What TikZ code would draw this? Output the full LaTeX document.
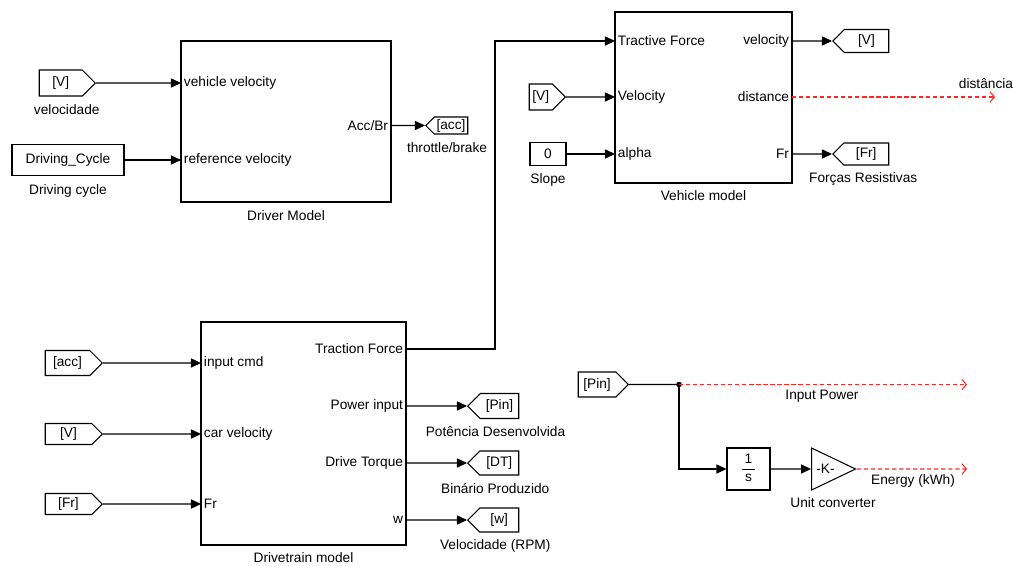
\documentclass[tikz,border=0pt]{standalone}
\usepackage{fontspec}
\setmainfont{Liberation Sans}
\usetikzlibrary{arrows.meta, positioning, shapes.geometric, shapes.symbols}

\begin{document}
\begin{tikzpicture}[
    x=0.02cm, y=-0.02cm,
    every node/.style={font=\fontsize{7.8}{9.4}\selectfont},
    block/.style={draw, line width=0.7pt, inner sep=0pt},
    fromtag/.style={draw, line width=0.6pt, signal, signal to=east, inner sep=1pt, anchor=east},
    gototag/.style={draw, line width=0.6pt, signal, signal to=west, inner sep=1pt, anchor=west},
    gainbox/.style={draw, line width=0.6pt, isosceles triangle, isosceles triangle stretches, minimum width=0.84cm, minimum height=0.88cm, inner sep=0pt},
    port/.style={inner sep=1.5pt},
    lbl/.style={inner sep=1pt},
    wire/.style={line width=0.6pt},
    sig/.style={-{Triangle[length=5.7pt,width=5.2pt]}, line width=0.6pt},
    probe/.style={-{Straight Barb[length=2.5pt,width=6pt]}, red!85, line width=0.6pt, dash pattern=on 2.4pt off 1.6pt}
]
    \useasboundingbox (0,0) rectangle (1013,565);

    % Driver model
    \node[block, minimum width=4.2cm, minimum height=3.22cm] (driver) at (286,121.5) {};
    \node[lbl, below=3.5pt of driver] (driverlbl) {Driver Model};
    \node[port, anchor=west] (drv-vv) at (181,83) {vehicle velocity};
    \node[port, anchor=west] (drv-rv) at (181,160) {reference velocity};
    \node[port, anchor=east] (drv-acc) at (391,125.5) {Acc/Br};

    \node[fromtag, minimum width=1.12cm, minimum height=0.52cm] (vel1) at (96,83) {[V]};
    \node[lbl, below=3.5pt of vel1, xshift=0.12cm] (vel1lbl) {velocidade};
    \node[block, line width=0.6pt, minimum width=2.24cm, minimum height=0.62cm] (cycle) at (68,160) {Driving\_Cycle};
    \node[lbl, below=3.5pt of cycle] (cyclelbl) {Driving cycle};
    \node[gototag, minimum width=0.84cm, minimum height=0.34cm] (acc1) at (425,125.5) {[acc]};
    \node[lbl, below=3.5pt of acc1, xshift=-0.08cm] (acc1lbl) {throttle/brake};

    \draw[sig] (vel1) -- (drv-vv.west);
    \draw[sig] (cycle) -- (drv-rv.west);
    \draw[sig] (drv-acc.east) -- (acc1);

    % Vehicle model
    \node[block, minimum width=3.54cm, minimum height=3.42cm] (vehicle) at (703.5,97.5) {};
    \node[lbl, below=3pt of vehicle] (vehiclelbl) {Vehicle model};
    \node[port, anchor=west] (veh-tf) at (615,41) {Tractive Force};
    \node[port, anchor=west] (veh-v) at (615,97) {Velocity};
    \node[port, anchor=west] (veh-a) at (615,154) {alpha};
    \node[port, anchor=east] (veh-vo) at (792,41) {velocity};
    \node[port, anchor=east] (veh-d) at (792,97) {distance};
    \node[port, anchor=east] (veh-fr) at (792,154) {Fr};

    \node[fromtag, minimum width=0.72cm, minimum height=0.52cm] (vel2) at (566,97) {[V]};
    \node[block, line width=0.6pt, minimum width=0.72cm, minimum height=0.46cm] (slope) at (548,154) {0};
    \node[lbl, below=3pt of slope] (slopelbl) {Slope};
    \node[gototag, minimum width=1.12cm, minimum height=0.46cm] (vel3) at (832,41) {[V]};
    \node[gototag, minimum width=1.12cm, minimum height=0.44cm] (fr1) at (832,154) {[Fr]};
    \node[lbl, below=3pt of fr1, xshift=-0.06cm] (fr1lbl) {Forças Resistivas};
    \coordinate (distend) at (995,97);
    \node[lbl] (distlbl) at (986,84) {distância};

    \draw[sig] (vel2) -- (veh-v.west);
    \draw[sig] (slope) -- (veh-a.west);
    \draw[sig] (veh-vo.east) -- (vel3);
    \draw[sig] (veh-fr.east) -- (fr1);
    \draw[probe] (veh-d.east) -- (distend);

    % Drivetrain model
    \node[block, minimum width=4.1cm, minimum height=4.46cm] (drive) at (303.5,433.5) {};
    \node[lbl, below=3pt of drive] (drivelbl) {Drivetrain model};
    \node[port, anchor=west] (drv-cmd) at (201,363) {input cmd};
    \node[port, anchor=west] (drv-cv) at (201,434) {car velocity};
    \node[port, anchor=west] (drv-fr) at (201,504) {Fr};
    \node[port, anchor=east] (drv-tf) at (406,349) {Traction Force};
    \node[port, anchor=east] (drv-pi) at (406,406) {Power input};
    \node[port, anchor=east] (drv-dt) at (406,463) {Drive Torque};
    \node[port, anchor=east] (drv-w) at (406,520) {w};

    \node[fromtag, minimum width=1.14cm, minimum height=0.5cm] (acc2) at (103,363) {[acc]};
    \node[fromtag, minimum width=1.14cm, minimum height=0.42cm] (vel4) at (103,434) {[V]};
    \node[fromtag, minimum width=1.14cm, minimum height=0.42cm] (fr2) at (103,504) {[Fr]};
    \node[gototag, minimum width=1.02cm, minimum height=0.5cm] (pin1) at (467,406) {[Pin]};
    \node[lbl, below=3pt of pin1, xshift=-0.08cm] (pin1lbl) {Potência Desenvolvida};
    \node[gototag, minimum width=1.02cm, minimum height=0.48cm] (dt1) at (467,463) {[DT]};
    \node[lbl, below=3pt of dt1, xshift=-0.08cm] (dt1lbl) {Binário Produzido};
    \node[gototag, minimum width=1.02cm, minimum height=0.48cm] (w1) at (467,520) {[w]};
    \node[lbl, below=3pt of w1, xshift=-0.08cm] (w1lbl) {Velocidade (RPM)};

    \draw[sig] (acc2) -- (drv-cmd.west);
    \draw[sig] (vel4) -- (drv-cv.west);
    \draw[sig] (fr2) -- (drv-fr.west);
    \draw[sig] (drv-pi.east) -- (pin1);
    \draw[sig] (drv-dt.east) -- (dt1);
    \draw[sig] (drv-w.east) -- (w1);
    \draw[sig] (drv-tf.east) -- ++(89,0) |- (veh-tf.west);

    % Energy
    \node[fromtag, minimum width=1.0cm, minimum height=0.5cm] (pin2) at (629,384.5) {[Pin]};
    \coordinate (tap) at (679,384.5);
    \coordinate (powend) at (967,384.5);
    \node[lbl] (powlbl) at (822,396) {Input Power};
    \node[block, line width=0.6pt, minimum width=0.86cm, minimum height=0.84cm] (integ) at (748.5,469)
        {\renewcommand{\arraystretch}{1.05}\begin{tabular}{@{\,}c@{\,}}1\\\hline s\end{tabular}};
    \node[gainbox, anchor=west] (gain) at (811,469) {-K-};
    \node[lbl] (gainlbl) at (833,503) {Unit converter};
    \coordinate (enend) at (967,469);
    \node[lbl] (enlbl) at (913,481) {Energy (kWh)};

    \draw[wire] (pin2) -- (tap);
    \fill (tap) circle (1.6pt);
    \draw[probe] (tap) -- (powend);
    \draw[sig] (tap) |- (integ);
    \draw[sig] (integ) -- (gain);
    \draw[probe] (gain.apex) -- (enend);

\end{tikzpicture}
\end{document}
